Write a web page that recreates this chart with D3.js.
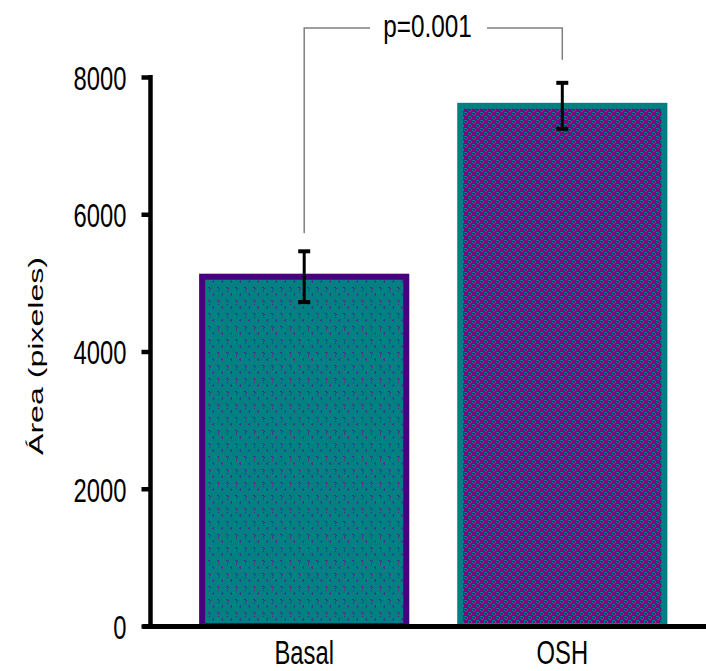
<!DOCTYPE html>
<html>
<head>
<meta charset="utf-8">
<script src="https://cdn.jsdelivr.net/npm/d3@7"></script>
<style>
  html, body { margin: 0; padding: 0; background: #fff; }
  svg { display: block; font-family: "Liberation Sans", Arial, sans-serif; }
</style>
</head>
<body>
<svg id="chart" width="706" height="671"></svg>
<script>
// Data
const categories = ["Basal", "OSH"];
const means = [5090, 7580];
const errors = [370, 335];
const yTicks = [0, 2000, 4000, 6000, 8000];
const pLabel = "p=0.001";
const yTitle = "Área (pixeles)";

const W = 706, H = 671;
const svg = d3.select("#chart");

const x = d3.scaleBand()
  .domain(categories)
  .range([150.5, 716])
  .paddingInner(0.209)
  .paddingOuter(0.2);

const y = d3.scaleLinear().domain([0, 8000]).range([626, 77]);

// Fill patterns
const defs = svg.append("defs");

const pBasal = defs.append("pattern")
  .attr("id", "pat-basal").attr("patternUnits", "userSpaceOnUse")
  .attr("width", 9).attr("height", 13);
pBasal.append("rect").attr("width", 9).attr("height", 13).attr("fill", "#008080");
// small "?" marks
[[1,1,2,1],[3,2,1,1],[2,3,1,1],[2,5,1,1]].forEach(r =>
  pBasal.append("rect").attr("x", r[0]).attr("y", r[1]).attr("width", r[2]).attr("height", r[3]).attr("fill", "#3a2a98"));
// small left-pointing marks
[[6,7,1,3],[5,8,1,1]].forEach(r =>
  pBasal.append("rect").attr("x", r[0]).attr("y", r[1]).attr("width", r[2]).attr("height", r[3]).attr("fill", "#3a3a9c"));

const pOsh = defs.append("pattern")
  .attr("id", "pat-osh").attr("patternUnits", "userSpaceOnUse")
  .attr("width", 8).attr("height", 8);
pOsh.append("rect").attr("width", 8).attr("height", 8).attr("fill", "#800080");
[[0,0,3,1],[3,1,1,2],[1,3,2,1],[0,2,1,1],[4,4,3,1],[7,5,1,2],[5,7,2,1],[4,6,1,1]].forEach(r =>
  pOsh.append("rect").attr("x", r[0]).attr("y", r[1]).attr("width", r[2]).attr("height", r[3]).attr("fill", "#008080"));

const fills = ["url(#pat-basal)", "url(#pat-osh)"];
const strokes = ["#48007f", "#008080"];

// Bars
svg.append("g").selectAll("rect")
  .data(categories)
  .join("rect")
  .attr("x", d => x(d))
  .attr("width", x.bandwidth())
  .attr("y", (d, i) => y(means[i]))
  .attr("height", (d, i) => y(0) - y(means[i]))
  .attr("fill", (d, i) => fills[i])
  .attr("stroke", (d, i) => strokes[i])
  .attr("stroke-width", 6);

// Error bars
const eb = svg.append("g").attr("stroke", "#000");
categories.forEach((c, i) => {
  const cx = x(c) + x.bandwidth() / 2;
  const top = y(means[i] + errors[i]), bot = y(means[i] - errors[i]);
  eb.append("line").attr("x1", cx).attr("x2", cx).attr("y1", top).attr("y2", bot).attr("stroke-width", 3);
  eb.append("line").attr("x1", cx - 6).attr("x2", cx + 6).attr("y1", top).attr("y2", top).attr("stroke-width", 4);
  eb.append("line").attr("x1", cx - 6).attr("x2", cx + 6).attr("y1", bot).attr("y2", bot).attr("stroke-width", 4);
});

// Y axis
const yAxis = svg.append("g")
  .attr("transform", "translate(150.5,0)")
  .call(d3.axisLeft(y).tickValues(yTicks).tickFormat(d3.format("d")).tickSize(9).tickPadding(15));
yAxis.select(".domain").remove();
yAxis.selectAll(".tick line").attr("stroke", "#000").attr("stroke-width", 4.5);
yAxis.selectAll(".tick text")
  .attr("font-size", 34).attr("fill", "#000")
  .attr("font-family", "'Liberation Sans', Arial, sans-serif")
  .attr("dy", "0.36em")
  .attr("transform", "scale(0.7,1)")
  .attr("x", -24 / 0.7);
svg.append("line")
  .attr("x1", 150.5).attr("x2", 150.5)
  .attr("y1", y(8000) - 2).attr("y2", y(0) + 2)
  .attr("stroke", "#000").attr("stroke-width", 4.5);

// X axis baseline
svg.append("line")
  .attr("x1", 143).attr("x2", W)
  .attr("y1", y(0) + 0.5).attr("y2", y(0) + 0.5)
  .attr("stroke", "#000").attr("stroke-width", 5);

// Category labels
svg.append("g").selectAll("text")
  .data(categories)
  .join("text")
  .attr("transform", d => `translate(${x(d) + x.bandwidth() / 2},664) scale(0.72,1)`)
  .attr("text-anchor", "middle")
  .attr("font-size", 33)
  .attr("fill", "#000")
  .text(d => d);

// Y title
svg.append("text")
  .attr("transform", "translate(43,356) rotate(-90)")
  .attr("text-anchor", "middle")
  .attr("font-size", 21)
  .attr("textLength", 198)
  .attr("lengthAdjust", "spacingAndGlyphs")
  .attr("fill", "#000")
  .text(yTitle);

// Significance bracket
const xL = x(categories[0]) + x.bandwidth() / 2;
const xR = x(categories[1]) + x.bandwidth() / 2;
const yTop = 28;
const br = svg.append("g").attr("fill", "none").attr("stroke", "#7f7f7f").attr("stroke-width", 1.5);
br.append("path").attr("d", `M${xL},${y(means[0] + errors[0]) - 18}V${yTop}H370`);
br.append("path").attr("d", `M487,${yTop}H${xR}V${y(means[1] + errors[1]) - 23}`);
svg.append("text")
  .attr("transform", `translate(${(370 + 487) / 2 - 1},37) scale(0.76,1)`)
  .attr("text-anchor", "middle")
  .attr("font-size", 32)
  .attr("fill", "#000")
  .text(pLabel);
</script>
</body>
</html>
